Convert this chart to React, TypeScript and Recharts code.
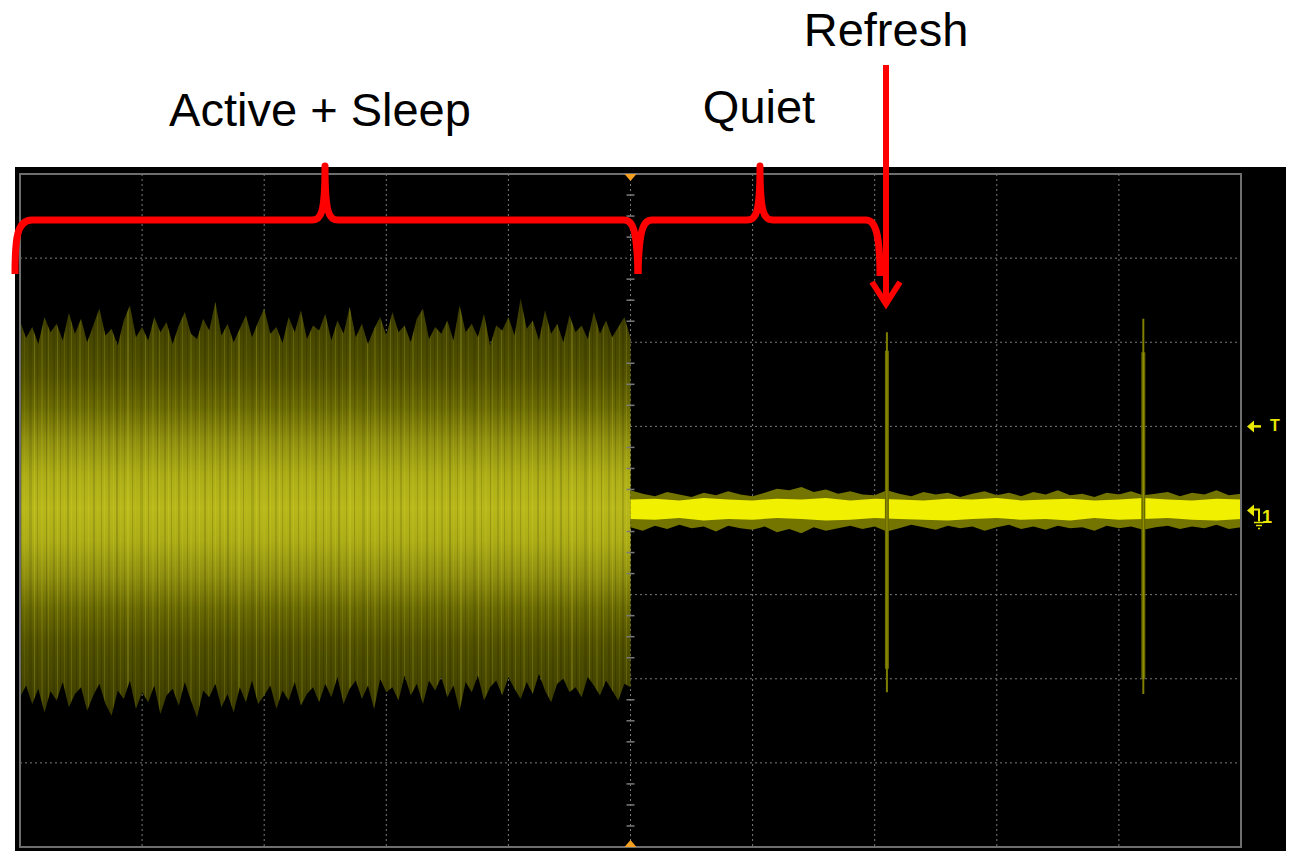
import React from 'react';
import {
  ComposedChart,
  Area,
  Line,
  Scatter,
  XAxis,
  YAxis,
  CartesianGrid,
  ReferenceArea,
  ReferenceDot,
} from 'recharts';

// ---------- data (divisions: x = time divs 0..10, y = volts divs -4..4) ----------
const gridX = [0, 1, 2, 3, 4, 5, 6, 7, 8, 9, 10];
const gridY = [-4, -3, -2, -1, 0, 1, 2, 3, 4];
const centerMinorTicks = [
  -3.75, -3.5, -3.25, -2.75, -2.5, -2.25, -1.75, -1.5, -1.25, -0.75, -0.5, -0.25,
  0.25, 0.5, 0.75, 1.25, 1.5, 1.75, 2.25, 2.5, 2.75, 3.25, 3.5, 3.75,
];

// Active + Sleep burst envelope, x from 0 to 5 div in 0.05 div steps
const activeTop = [
  2.25, 2.05, 2.18, 1.98, 2.3, 2.12, 2.22, 2.02, 2.35, 2.1,
  2.28, 2.0, 2.2, 2.4, 2.08, 2.16, 1.96, 2.26, 2.44, 2.06,
  2.18, 2.02, 2.3, 2.12, 2.24, 1.98, 2.2, 2.36, 2.1, 2.04,
  2.28, 2.14, 2.48, 2.08, 2.22, 2.0, 2.16, 2.32, 2.06, 2.24,
  2.4, 2.1, 2.18, 1.99, 2.3, 2.12, 2.38, 2.04, 2.2, 2.14,
  2.34, 2.02, 2.26, 2.1, 2.42, 2.06, 2.22, 1.98, 2.16, 2.3,
  2.08, 2.36, 2.12, 2.2, 2.0, 2.28, 2.4, 2.04, 2.18, 2.1,
  2.26, 2.02, 2.44, 2.12, 2.22, 2.06, 2.34, 1.96, 2.2, 2.14,
  2.3, 2.08, 2.52, 2.16, 2.26, 2.02, 2.38, 2.1, 2.22, 2.0,
  2.32, 2.12, 2.2, 2.04, 2.36, 2.1, 2.26, 2.06, 2.18, 2.3,
  2.05,
];
const activeBottom = [
  -2.22, -2.08, -2.3, -2.12, -2.4, -2.15, -2.26, -2.04, -2.34, -2.18,
  -2.1, -2.38, -2.2, -2.06, -2.3, -2.44, -2.14, -2.24, -2.02, -2.36,
  -2.16, -2.28, -2.08, -2.42, -2.2, -2.12, -2.32, -2.04, -2.26, -2.46,
  -2.14, -2.22, -2.06, -2.34, -2.18, -2.4, -2.1, -2.28, -2.02, -2.3,
  -2.2, -2.08, -2.36, -2.14, -2.26, -2.04, -2.32, -2.18, -2.1, -2.28,
  -2.06, -2.22, -1.98, -2.3, -2.12, -2.02, -2.24, -2.08, -2.36, -2.0,
  -2.16, -2.1, -2.26, -1.96, -2.2, -2.06, -2.3, -2.02, -2.14, -1.98,
  -2.22, -2.08, -2.38, -2.04, -2.16, -1.96, -2.26, -2.1, -2.02, -2.2,
  -1.98, -2.12, -2.24, -2.04, -2.18, -1.94, -2.14, -2.28, -2.06, -2.0,
  -2.16, -2.1, -2.22, -1.98, -2.08, -2.2, -2.02, -2.14, -2.26, -2.06,
  -2.1,
];

// Quiet band, x from 5 to 10 div in 0.1 div steps
const quietTop = [
  0.24, 0.2, 0.17, 0.22, 0.19, 0.16, 0.21, 0.18, 0.23, 0.19,
  0.17, 0.21, 0.26, 0.24, 0.28, 0.22, 0.25, 0.2, 0.23, 0.19,
  0.18, 0.24, 0.2, 0.17, 0.22, 0.19, 0.21, 0.16, 0.2, 0.23,
  0.18, 0.21, 0.17, 0.22, 0.19, 0.24, 0.18, 0.2, 0.16, 0.21,
  0.19, 0.23, 0.18, 0.2, 0.22, 0.17, 0.21, 0.19, 0.24, 0.18,
  0.2,
];
const quietBottom = [
  -0.2, -0.24, -0.18, -0.22, -0.17, -0.21, -0.19, -0.25, -0.18, -0.21,
  -0.23, -0.19, -0.26, -0.22, -0.27, -0.2, -0.24, -0.21, -0.18, -0.22,
  -0.19, -0.25, -0.21, -0.17, -0.2, -0.23, -0.18, -0.21, -0.19, -0.24,
  -0.2, -0.17, -0.22, -0.19, -0.23, -0.18, -0.21, -0.2, -0.24, -0.18,
  -0.21, -0.19, -0.23, -0.2, -0.18, -0.22, -0.19, -0.21, -0.17, -0.22,
  -0.2,
];
// Bright core of the quiet trace, x from 5 to 10 div in 0.2 div steps
const quietCoreTop = [
  0.13, 0.14, 0.12, 0.15, 0.13, 0.12, 0.14, 0.13, 0.15, 0.12, 0.14, 0.13, 0.12,
  0.14, 0.13, 0.15, 0.12, 0.13, 0.14, 0.12, 0.13, 0.15, 0.13, 0.12, 0.14, 0.13,
];
const quietCoreBottom = [
  -0.1, -0.11, -0.09, -0.12, -0.1, -0.11, -0.09, -0.1, -0.12, -0.11, -0.09, -0.1, -0.11,
  -0.12, -0.1, -0.09, -0.11, -0.1, -0.12, -0.09, -0.11, -0.1, -0.09, -0.11, -0.12, -0.1,
];

// Refresh spikes
const spikeTimes = [7.1, 9.2];
const spikeOuterTop = [2.12, 2.28];
const spikeOuterBottom = [-2.16, -2.18];
const spikeInnerTop = [1.9, 1.88];
const spikeInnerBottom = [-1.88, -2.0];

// ---------- derived tables ----------
const activeData = activeTop.map((t, i) => ({ x: i * 0.05, range: [activeBottom[i], t] }));
const quietData = quietTop.map((t, i) => ({ x: 5 + i * 0.1, range: [quietBottom[i], t] }));
const quietCoreData = quietCoreTop.map((t, i) => ({ x: 5 + i * 0.2, range: [quietCoreBottom[i], t] }));
const centerTickData = centerMinorTicks.map((y) => ({ x: 5, y }));

// ---------- layout / style ----------
const W = 1296;
const H = 851;
const MARGIN = { top: 174, right: 55, bottom: 4, left: 20 };
const TRACE = '#e8e800';
const RED = '#ff0000';

// decorative streak texture (style only): [x, width, colour, opacity]
const STREAKS: [number, number, string, number][] = [
  [2, 1, '#e6e63a', 0.16], [5, 2, '#000000', 0.14], [9, 1, '#e0e030', 0.12], [13, 1, '#000000', 0.12],
  [16, 2, '#e8e83c', 0.18], [21, 1, '#000000', 0.15], [24, 1, '#dcdc2c', 0.1], [29, 3, '#000000', 0.1],
  [34, 1, '#eaea40', 0.2], [37, 1, '#000000', 0.13], [41, 2, '#e0e030', 0.12], [46, 1, '#000000', 0.16],
  [48, 1, '#e4e436', 0.15], [53, 2, '#000000', 0.11], [57, 1, '#eaea40', 0.18], [60, 1, '#000000', 0.14],
  [64, 1, '#dcdc2c', 0.12], [67, 2, '#000000', 0.12], [71, 1, '#e6e63a', 0.16], [76, 1, '#000000', 0.15],
  [79, 2, '#e2e232', 0.12], [84, 1, '#000000', 0.12], [88, 1, '#eaea40', 0.17], [93, 2, '#000000', 0.13],
  [97, 1, '#e0e030', 0.12], [101, 1, '#000000', 0.15], [104, 1, '#e8e83c', 0.16], [108, 2, '#000000', 0.1],
];

const TickMark = (props: any) => {
  const { cx, cy } = props;
  return <line x1={cx - 4} x2={cx + 4} y1={cy} y2={cy} stroke="#7a7a7a" strokeWidth={1.5} />;
};

const TopTrig = (props: any) => {
  const { cx, cy } = props;
  return <polygon points={`${cx - 6},${cy} ${cx + 6},${cy} ${cx},${cy + 7}`} fill="#f5a020" />;
};
const BottomTrig = (props: any) => {
  const { cx, cy } = props;
  return <polygon points={`${cx - 6},${cy} ${cx + 6},${cy} ${cx},${cy - 7}`} fill="#f5a020" />;
};

const TMarker = (props: any) => {
  const { cx, cy } = props;
  return (
    <g>
      <polygon points={`${cx + 6},${cy} ${cx + 13},${cy - 6} ${cx + 13},${cy + 6}`} fill={TRACE} />
      <line x1={cx + 12} x2={cx + 20} y1={cy} y2={cy} stroke={TRACE} strokeWidth={2.5} />
      <text x={cx + 29} y={cy + 5} fill={TRACE} fontSize={16} fontWeight="bold" fontFamily="Liberation Sans, Arial, sans-serif">
        T
      </text>
    </g>
  );
};

const GroundMarker = (props: any) => {
  const { cx, cy } = props;
  return (
    <g>
      <polygon points={`${cx + 6},${cy} ${cx + 13},${cy - 6} ${cx + 13},${cy + 6}`} fill={TRACE} />
      <polyline points={`${cx + 12},${cy - 1} ${cx + 18},${cy - 1} ${cx + 18},${cy + 11}`} fill="none" stroke={TRACE} strokeWidth={2} />
      <line x1={cx + 13} x2={cx + 23} y1={cy + 12} y2={cy + 12} stroke={TRACE} strokeWidth={1.5} />
      <line x1={cx + 15} x2={cx + 21} y1={cy + 15} y2={cy + 15} stroke={TRACE} strokeWidth={1.5} />
      <line x1={cx + 17} x2={cx + 19} y1={cy + 18} y2={cy + 18} stroke={TRACE} strokeWidth={1.5} />
      <text x={cx + 21} y={cy + 12} fill={TRACE} fontSize={18} fontWeight="bold" fontFamily="Liberation Sans, Arial, sans-serif">
        1
      </text>
    </g>
  );
};

const textStyle = {
  fontFamily: 'Liberation Sans, Arial, sans-serif',
  fontSize: 47,
  fill: '#000',
};

export default function App() {
  return (
    <div style={{ position: 'absolute', left: 0, top: 0, width: W, height: H, background: '#fff', overflow: 'hidden' }}>
      {/* scope screen background */}
      <div style={{ position: 'absolute', left: 15, top: 167, width: 1271, height: 684, background: '#000' }} />
      <div style={{ position: 'absolute', left: 0, top: 0 }}>
        <ComposedChart width={W} height={H} margin={MARGIN}>
          <defs>
            <linearGradient id="activeGrad" x1="0" y1="0" x2="0" y2="1">
              <stop offset="0" stopColor="#3a3a00" />
              <stop offset="0.1" stopColor="#484800" />
              <stop offset="0.18" stopColor="#525200" />
              <stop offset="0.26" stopColor="#6a6a04" />
              <stop offset="0.34" stopColor="#909010" />
              <stop offset="0.42" stopColor="#acac17" />
              <stop offset="0.5" stopColor="#b8b81b" />
              <stop offset="0.58" stopColor="#acac17" />
              <stop offset="0.66" stopColor="#909010" />
              <stop offset="0.74" stopColor="#6a6a04" />
              <stop offset="0.82" stopColor="#525200" />
              <stop offset="0.9" stopColor="#484800" />
              <stop offset="1" stopColor="#3a3a00" />
            </linearGradient>
            <pattern id="streaks" patternUnits="userSpaceOnUse" x="0" y="0" width="111" height="851">
              {STREAKS.map(([px, w, c, o], i) => (
                <rect key={i} x={px} y={0} width={w} height={851} fill={c} fillOpacity={o} />
              ))}
            </pattern>
          </defs>
          <XAxis type="number" dataKey="x" domain={[0, 10]} ticks={gridX} allowDataOverflow hide />
          <YAxis type="number" dataKey="y" domain={[-4, 4]} ticks={gridY} allowDataOverflow hide />
          <CartesianGrid stroke="#7a7a7a" strokeDasharray="2 3" strokeWidth={1} />
          <Area
            data={activeData}
            dataKey="range"
            type="linear"
            stroke="none"
            fill="url(#activeGrad)"
            fillOpacity={1}
            dot={false}
            activeDot={false}
            isAnimationActive={false}
          />
          <Area
            data={activeData}
            dataKey="range"
            type="linear"
            stroke="none"
            fill="url(#streaks)"
            fillOpacity={1}
            dot={false}
            activeDot={false}
            isAnimationActive={false}
          />
          <Area
            data={quietData}
            dataKey="range"
            type="linear"
            stroke="none"
            fill="#747400"
            fillOpacity={1}
            dot={false}
            activeDot={false}
            isAnimationActive={false}
          />
          {spikeTimes.map((t, i) => (
            <Line
              key={`so${i}`}
              data={[{ x: t, y: spikeOuterTop[i] }, { x: t, y: spikeOuterBottom[i] }]}
              dataKey="y"
              stroke="#7e7e00"
              strokeWidth={2}
              dot={false}
              activeDot={false}
              isAnimationActive={false}
            />
          ))}
          {spikeTimes.map((t, i) => (
            <Line
              key={`si${i}`}
              data={[{ x: t, y: spikeInnerTop[i] }, { x: t, y: spikeInnerBottom[i] }]}
              dataKey="y"
              stroke="#6a6a00"
              strokeWidth={4}
              dot={false}
              activeDot={false}
              isAnimationActive={false}
            />
          ))}
          {spikeTimes.map((t, i) => (
            <Line
              key={`sc${i}`}
              data={[{ x: t, y: spikeInnerTop[i] }, { x: t, y: spikeInnerBottom[i] }]}
              dataKey="y"
              stroke="#9a9a00"
              strokeWidth={1}
              dot={false}
              activeDot={false}
              isAnimationActive={false}
            />
          ))}
          <Area
            data={quietCoreData}
            dataKey="range"
            type="linear"
            stroke="none"
            fill="#f0f000"
            fillOpacity={1}
            dot={false}
            activeDot={false}
            isAnimationActive={false}
          />
          <Scatter data={centerTickData} dataKey="y" shape={TickMark} isAnimationActive={false} />
          <ReferenceArea x1={0} x2={10} y1={-4} y2={4} fill="none" stroke="#6e6e6e" strokeWidth={2} ifOverflow="visible" />
          <ReferenceDot x={5} y={4} shape={TopTrig} ifOverflow="visible" />
          <ReferenceDot x={5} y={-4} shape={BottomTrig} ifOverflow="visible" />
          <ReferenceDot x={10} y={1} shape={TMarker} ifOverflow="visible" />
          <ReferenceDot x={10} y={0} shape={GroundMarker} ifOverflow="visible" />
        </ComposedChart>
      </div>
      {/* annotations */}
      <svg width={W} height={H} style={{ position: 'absolute', left: 0, top: 0, pointerEvents: 'none' }}>
        <text x={320} y={126} textAnchor="middle" {...textStyle}>Active + Sleep</text>
        <text x={759} y={123} textAnchor="middle" {...textStyle}>Quiet</text>
        <text x={886} y={46} textAnchor="middle" {...textStyle}>Refresh</text>
        <path
          d="M15,274 C15,238 17,220 32,220 L312,220 C321,220 325,214 325,166 C325,214 329,220 338,220 L624,220 C633,220 637,230 638,274"
          fill="none"
          stroke={RED}
          strokeWidth={7}
          strokeLinejoin="round"
        />
        <path
          d="M638,274 C639,230 643,220 652,220 L747,220 C756,220 760,214 760,166 C760,214 764,220 773,220 L866,220 C875,220 880,232 880,276"
          fill="none"
          stroke={RED}
          strokeWidth={7}
          strokeLinejoin="round"
        />
        <line x1={886} y1={65} x2={886} y2={302} stroke={RED} strokeWidth={6} />
        <polyline points="872,282 886,304 900,282" fill="none" stroke={RED} strokeWidth={6} />
      </svg>
    </div>
  );
}
